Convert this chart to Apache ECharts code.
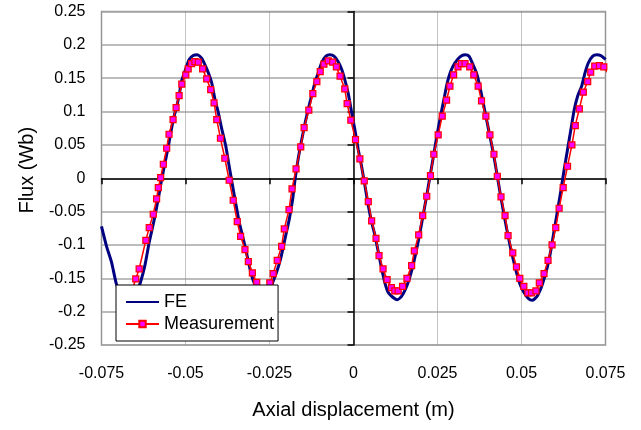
<!DOCTYPE html>
<html>
<head>
<meta charset="utf-8">
<script src="https://cdn.jsdelivr.net/npm/echarts@6/dist/echarts.min.js"></script>
<style>
html,body{margin:0;padding:0;background:#fff;}
#c{width:641px;height:430px;}
</style>
</head>
<body>
<div id="c"></div>
<script>
const feX = [-0.075,-0.0735,-0.0720,-0.0706,-0.0694,-0.0682,-0.0670,-0.0658,-0.0646,-0.0634,-0.0621,-0.0608,-0.0596,-0.0588,-0.0578,-0.0571,-0.0561,-0.0551,-0.0544,-0.0535,-0.0525,-0.0517,-0.0512,-0.0502,-0.0489,-0.0477,-0.0465,-0.0452,-0.0442,-0.0432,-0.0422,-0.0413,-0.0403,-0.0393,-0.0380,-0.0370,-0.0360,-0.0350,-0.0340,-0.0328,-0.0318,-0.0308,-0.0300,-0.0289,-0.0277,-0.0265,-0.0253,-0.0244,-0.0229,-0.0217,-0.0204,-0.0191,-0.0181,-0.0174,-0.0165,-0.0154,-0.0144,-0.0135,-0.0125,-0.0115,-0.0105,-0.0095,-0.0082,-0.0070,-0.0058,-0.0046,-0.0035,-0.0026,-0.0016,-0.0006,0.0004,0.0014,0.0024,0.0034,0.0044,0.0054,0.0064,0.0074,0.0084,0.0093,0.0103,0.0116,0.0130,0.0143,0.0155,0.0166,0.0176,0.0186,0.0196,0.0207,0.0218,0.0227,0.0239,0.0249,0.0259,0.0269,0.0279,0.0289,0.0302,0.0317,0.0332,0.0344,0.0356,0.0366,0.0376,0.0386,0.0396,0.0406,0.0416,0.0426,0.0436,0.0446,0.0456,0.0466,0.0475,0.0485,0.0495,0.0507,0.0520,0.0532,0.0545,0.0557,0.0567,0.0578,0.0588,0.0597,0.0607,0.0617,0.0627,0.0637,0.0647,0.0657,0.0667,0.0679,0.0689,0.0699,0.0712,0.0724,0.0736,0.0746,0.075];
const feY = [-0.072,-0.102,-0.126,-0.158,-0.171,-0.179,-0.183,-0.180,-0.172,-0.156,-0.131,-0.096,-0.069,-0.049,-0.022,-0.002,0.023,0.048,0.068,0.091,0.110,0.130,0.145,0.160,0.178,0.184,0.185,0.180,0.170,0.158,0.143,0.120,0.100,0.076,0.048,0.018,-0.011,-0.039,-0.066,-0.091,-0.113,-0.136,-0.151,-0.165,-0.176,-0.181,-0.176,-0.161,-0.141,-0.121,-0.091,-0.061,-0.031,-0.002,0.028,0.058,0.083,0.103,0.123,0.143,0.158,0.173,0.183,0.185,0.183,0.175,0.163,0.148,0.128,0.100,0.073,0.043,0.018,-0.011,-0.041,-0.066,-0.086,-0.111,-0.136,-0.156,-0.171,-0.178,-0.182,-0.177,-0.166,-0.151,-0.133,-0.111,-0.086,-0.056,-0.026,0.001,0.036,0.066,0.093,0.118,0.143,0.160,0.173,0.182,0.185,0.183,0.170,0.158,0.138,0.113,0.088,0.063,0.038,0.009,-0.021,-0.049,-0.076,-0.101,-0.121,-0.141,-0.158,-0.171,-0.180,-0.183,-0.178,-0.166,-0.151,-0.131,-0.106,-0.079,-0.049,-0.019,0.013,0.043,0.073,0.103,0.123,0.138,0.158,0.173,0.183,0.185,0.184,0.180,0.178];
const measX = [-0.0689,-0.0679,-0.0668,-0.0658,-0.0648,-0.0638,-0.0618,-0.0608,-0.0596,-0.0586,-0.0581,-0.0574,-0.0566,-0.0556,-0.0549,-0.0537,-0.0528,-0.0519,-0.0511,-0.0499,-0.0492,-0.0482,-0.0472,-0.0462,-0.0449,-0.0437,-0.0425,-0.0415,-0.0407,-0.0396,-0.0383,-0.0370,-0.0358,-0.0346,-0.0336,-0.0323,-0.0313,-0.0301,-0.0288,-0.0278,-0.0268,-0.0258,-0.0249,-0.0239,-0.0227,-0.0214,-0.0206,-0.0192,-0.0183,-0.0171,-0.0157,-0.0147,-0.0133,-0.0121,-0.0109,-0.0099,-0.0088,-0.0075,-0.0062,-0.0051,-0.0040,-0.0026,-0.0019,-0.0008,0.0006,0.0019,0.0032,0.0044,0.0054,0.0067,0.0076,0.0088,0.0100,0.0113,0.0123,0.0133,0.0146,0.0159,0.0173,0.0181,0.0194,0.0206,0.0218,0.0229,0.0239,0.0252,0.0264,0.0277,0.0287,0.0298,0.0311,0.0321,0.0332,0.0346,0.0358,0.0371,0.0381,0.0394,0.0406,0.0418,0.0428,0.0439,0.0451,0.0460,0.0474,0.0485,0.0495,0.0507,0.0519,0.0530,0.0543,0.0553,0.0567,0.0579,0.0591,0.0602,0.0612,0.0624,0.0637,0.0650,0.0660,0.0672,0.0684,0.0697,0.0706,0.0718,0.0732,0.0745,0.0757];
const measY = [-0.168,-0.171,-0.170,-0.166,-0.151,-0.136,-0.093,-0.074,-0.054,-0.031,-0.014,0.001,0.021,0.045,0.066,0.088,0.106,0.124,0.141,0.155,0.164,0.172,0.175,0.174,0.164,0.149,0.133,0.113,0.088,0.060,0.030,-0.003,-0.033,-0.065,-0.087,-0.107,-0.125,-0.142,-0.156,-0.166,-0.168,-0.166,-0.157,-0.143,-0.123,-0.102,-0.076,-0.047,-0.016,0.014,0.047,0.076,0.102,0.127,0.145,0.160,0.171,0.176,0.174,0.167,0.153,0.134,0.112,0.087,0.058,0.029,-0.004,-0.035,-0.064,-0.090,-0.116,-0.136,-0.152,-0.164,-0.169,-0.169,-0.162,-0.150,-0.131,-0.109,-0.085,-0.056,-0.027,0.004,0.036,0.065,0.093,0.117,0.138,0.155,0.167,0.172,0.172,0.167,0.155,0.138,0.116,0.093,0.065,0.036,0.003,-0.028,-0.056,-0.086,-0.112,-0.133,-0.150,-0.162,-0.172,-0.172,-0.169,-0.157,-0.143,-0.123,-0.100,-0.074,-0.045,-0.014,0.018,0.050,0.079,0.104,0.129,0.145,0.159,0.168,0.169,0.167,0.158];
const seriesNames = ['FE', 'Measurement'];
const xName = 'Axial displacement (m)';
const yName = 'Flux (Wb)';

const FONT = '"Liberation Sans", Arial, sans-serif';
const chart = echarts.init(document.getElementById('c'), null, {renderer: 'canvas'});
const zeroAxisCommon = {
  axisLabel: {show: false},
  splitLine: {show: false},
  axisLine: {show: true, onZero: true, onZeroAxisIndex: 0, lineStyle: {color: '#000', width: 1.5}},
  axisTick: {show: true, inside: false, length: 6, lineStyle: {color: '#000', width: 1.5}}
};
chart.setOption({
  animation: false,
  backgroundColor: '#fff',
  textStyle: {fontFamily: FONT},
  grid: {left: 101.5, right: 35.5, top: 11.5, bottom: 85, show: true, borderColor: '#9c9c9c', borderWidth: 1.5, outerBoundsMode: 'none', containLabel: false},
  legend: {
    orient: 'vertical', left: 116, top: 285,
    backgroundColor: '#fff', borderColor: '#000', borderWidth: 1,
    padding: [8, 4, 8, 9], itemWidth: 33, itemHeight: 8, itemGap: 4,
    textStyle: {fontSize: 18, color: '#000', fontFamily: FONT},
    data: [{name: seriesNames[0], itemStyle: {opacity: 0}}, {name: seriesNames[1]}]
  },
  xAxis: [
    {
      type: 'value', min: -0.075, max: 0.075, interval: 0.025, position: 'bottom',
      name: xName, nameLocation: 'middle', nameGap: 55,
      nameTextStyle: {fontSize: 20, color: '#000', fontFamily: FONT},
      axisLine: {show: false, onZero: false},
      axisTick: {show: false},
      axisLabel: {fontSize: 16, color: '#000', margin: 21, fontFamily: FONT},
      splitLine: {show: true, lineStyle: {color: '#8a8a8a', width: 1, type: 'dotted'}}
    },
    Object.assign({type: 'value', min: -0.075, max: 0.075, interval: 0.025, position: 'bottom'}, zeroAxisCommon)
  ],
  yAxis: [
    {
      type: 'value', min: -0.25, max: 0.25, interval: 0.05, position: 'left',
      name: yName, nameLocation: 'middle', nameGap: 64, nameRotate: 90,
      nameTextStyle: {fontSize: 20, color: '#000', fontFamily: FONT, padding: [0, 0, 0, 16]},
      axisLine: {show: false, onZero: false},
      axisTick: {show: false},
      axisLabel: {fontSize: 16, color: '#000', margin: 16, fontFamily: FONT},
      splitLine: {show: true, lineStyle: {color: '#a6a6a6', width: 1.5}}
    },
    Object.assign({type: 'value', min: -0.25, max: 0.25, interval: 0.05, position: 'left'}, zeroAxisCommon)
  ],
  series: [
    {
      name: seriesNames[0], type: 'line', xAxisIndex: 0, yAxisIndex: 0,
      data: feX.map((x, i) => [x, feY[i]]),
      showSymbol: false, symbol: 'none', smooth: 0.2,
      lineStyle: {color: '#000080', width: 3},
      itemStyle: {color: '#000080'},
      z: 2
    },
    {
      name: seriesNames[1], type: 'line', xAxisIndex: 0, yAxisIndex: 0,
      data: measX.map((x, i) => [x, measY[i]]),
      symbol: 'rect', symbolSize: 6, showSymbol: true,
      lineStyle: {color: '#ff0000', width: 1.5},
      itemStyle: {color: '#ff00ff', borderColor: '#ff0000', borderWidth: 1.2},
      z: 3
    }
  ]
});
</script>
</body>
</html>
